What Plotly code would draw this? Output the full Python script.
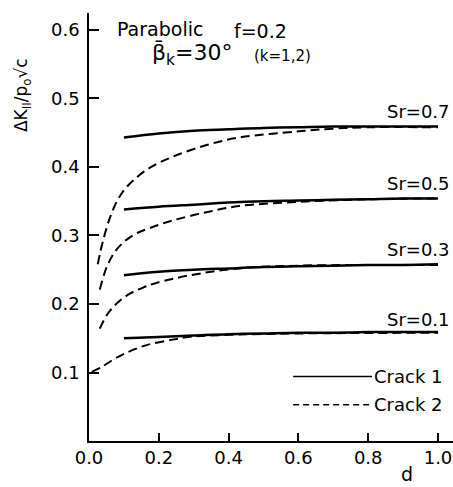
import plotly.graph_objects as go

# ---- data ----
d_solid = [0.1, 0.2, 0.3, 0.4, 0.5, 0.6, 0.7, 0.8, 0.9, 1.0]
crack1_sr07 = [0.443, 0.449, 0.453, 0.455, 0.457, 0.458, 0.459, 0.459, 0.459, 0.459]
crack1_sr05 = [0.338, 0.342, 0.345, 0.348, 0.350, 0.351, 0.352, 0.353, 0.354, 0.354]
crack1_sr03 = [0.242, 0.247, 0.250, 0.252, 0.254, 0.255, 0.256, 0.257, 0.257, 0.258]
crack1_sr01 = [0.150, 0.152, 0.154, 0.156, 0.157, 0.158, 0.158, 0.159, 0.159, 0.159]

d_c2_07 = [0.025, 0.04, 0.06, 0.08, 0.10, 0.13, 0.175, 0.24, 0.337, 0.43, 0.6, 0.7, 0.8, 1.0]
crack2_sr07 = [0.258, 0.292, 0.326, 0.350, 0.366, 0.382, 0.399, 0.415, 0.432, 0.443, 0.452, 0.456, 0.458, 0.458]
d_c2_05 = [0.031, 0.045, 0.06, 0.08, 0.108, 0.14, 0.175, 0.24, 0.337, 0.43, 0.6, 0.8, 1.0]
crack2_sr05 = [0.221, 0.246, 0.264, 0.280, 0.294, 0.304, 0.311, 0.322, 0.334, 0.343, 0.349, 0.353, 0.354]
d_c2_03 = [0.031, 0.05, 0.08, 0.117, 0.155, 0.195, 0.29, 0.43, 0.6, 1.0]
crack2_sr03 = [0.164, 0.183, 0.201, 0.215, 0.224, 0.231, 0.242, 0.252, 0.256, 0.257]
d_c2_01 = [0.008, 0.036, 0.07, 0.108, 0.165, 0.24, 0.29, 0.4, 0.6, 1.0]
crack2_sr01 = [0.101, 0.108, 0.119, 0.129, 0.140, 0.148, 0.152, 0.155, 0.157, 0.158]

sr_labels = ["Sr=0.7", "Sr=0.5", "Sr=0.3", "Sr=0.1"]
sr_label_y = [0.481, 0.376, 0.280, 0.177]

x_ticks = [0.0, 0.2, 0.4, 0.6, 0.8, 1.0]
x_ticktext = ["0.0", "0.2", "0.4", "0.6", "0.8", "1.0"]
y_ticks = [0.1, 0.2, 0.3, 0.4, 0.5, 0.6]
y_ticktext = ["0.1", "0.2", "0.3", "0.4", "0.5", "0.6"]

FONT = "DejaVu Sans"
fig = go.Figure()

for y in [crack1_sr07, crack1_sr05, crack1_sr03, crack1_sr01]:
    fig.add_trace(go.Scatter(x=d_solid, y=y, mode="lines",
                             line=dict(color="black", width=2.5, shape="spline"),
                             showlegend=False, hoverinfo="skip"))

for x, y in [(d_c2_07, crack2_sr07), (d_c2_05, crack2_sr05),
             (d_c2_03, crack2_sr03), (d_c2_01, crack2_sr01)]:
    fig.add_trace(go.Scatter(x=x, y=y, mode="lines",
                             line=dict(color="black", width=2, dash="9px,5px", shape="spline"),
                             showlegend=False, hoverinfo="skip"))

annotations = []
for lab, yy in zip(sr_labels, sr_label_y):
    annotations.append(dict(x=1.04, y=yy, xref="x", yref="y", text=lab,
                            showarrow=False, xanchor="right", yanchor="middle",
                            font=dict(family=FONT, size=18, color="black")))

annotations += [
    dict(x=0.0745, y=0.601, xref="x", yref="y", text="Parabolic", showarrow=False,
         xanchor="left", yanchor="middle", font=dict(family=FONT, size=19, color="black")),
    dict(x=0.41, y=0.598, xref="x", yref="y", text="f=0.2", showarrow=False,
         xanchor="left", yanchor="middle", font=dict(family=FONT, size=19, color="black")),
    dict(x=0.175, y=0.564, xref="x", yref="y", text="β\u0304<sub>k</sub>=30°", showarrow=False,
         xanchor="left", yanchor="middle", font=dict(family=FONT, size=22, color="black")),
    dict(x=0.468, y=0.562, xref="x", yref="y", text="(k=1,2)", showarrow=False,
         xanchor="left", yanchor="middle", font=dict(family=FONT, size=15, color="black")),
    dict(x=0.911, y=-0.077, xref="x", yref="paper", text="d", showarrow=False,
         xanchor="center", yanchor="middle", font=dict(family=FONT, size=19, color="black")),
    dict(x=-0.184, y=0.505, xref="paper", yref="y", text="ΔK<sub>II</sub>/p<sub>o</sub>√c",
         showarrow=False, textangle=-90, xanchor="center", yanchor="middle",
         font=dict(family=FONT, size=17, color="black")),
    dict(x=0.811, y=0.094, xref="x", yref="y", text="Crack 1", showarrow=False,
         xanchor="left", yanchor="middle", font=dict(family=FONT, size=18, color="black")),
    dict(x=0.811, y=0.053, xref="x", yref="y", text="Crack 2", showarrow=False,
         xanchor="left", yanchor="middle", font=dict(family=FONT, size=18, color="black")),
]

shapes = [
    dict(type="line", xref="x", yref="y", x0=0.585, x1=0.811, y0=0.094, y1=0.094,
         line=dict(color="black", width=1.5)),
    dict(type="line", xref="x", yref="y", x0=0.585, x1=0.811, y0=0.053, y1=0.053,
         line=dict(color="black", width=1.5, dash="6px,4px")),
]

fig.update_layout(
    width=453, height=487,
    margin=dict(l=89, r=0, t=13, b=46),
    paper_bgcolor="white", plot_bgcolor="white",
    showlegend=False,
    annotations=annotations,
    shapes=shapes,
    xaxis=dict(range=[0, 1.043], tickvals=x_ticks, ticktext=x_ticktext,
               ticks="inside", ticklen=8, tickwidth=1.5, tickcolor="black",
               showline=True, linecolor="black", linewidth=1.5, showgrid=False,
               zeroline=False, tickfont=dict(family=FONT, size=18, color="black")),
    yaxis=dict(range=[0, 0.6248], tickvals=y_ticks, ticktext=y_ticktext,
               ticks="inside", ticklen=10, tickwidth=1.5, tickcolor="black",
               showline=True, linecolor="black", linewidth=1.5, showgrid=False,
               zeroline=False, ticklabelstandoff=4,
               tickfont=dict(family=FONT, size=18, color="black")),
)

fig.write_html("out.html")
